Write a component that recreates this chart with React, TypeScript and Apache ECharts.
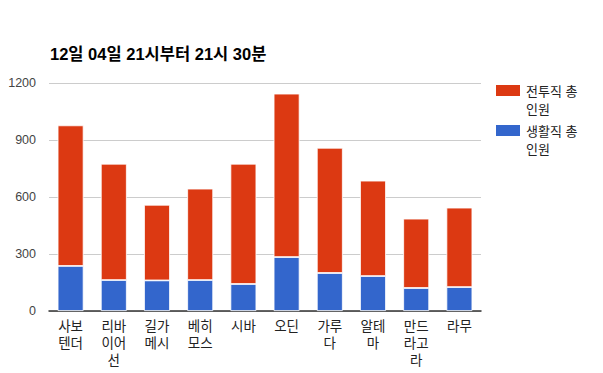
import React, { useEffect, useRef } from "react";
import * as echarts from "echarts";

const categories = ["사보텐더", "리바이어선", "길가메시", "베히모스", "시바", "오딘", "가루다", "알테마", "만드라고라", "라무"];
const combatNames = "전투직 총 인원";
const lifeNames = "생활직 총 인원";
const combatValues = [740, 612, 398, 481, 633, 860, 659, 502, 365, 418];
const lifeValues = [237, 163, 161, 163, 142, 284, 200, 184, 121, 126];
const yTicks = [0, 300, 600, 900, 1200];
const titleText = "12일 04일 21시부터 21시 30분";

const FONT = "'Liberation Sans', Arial, 'Noto Sans CJK KR', sans-serif";

export default function App() {
  const ref = useRef<HTMLDivElement>(null);
  useEffect(() => {
    if (!ref.current) return;
    const chart = echarts.init(ref.current, null, { renderer: "svg" });
    const legendIcon =
      "path://M0,0h0.01v0.01h-0.01Z M0,2H26V15H0Z M0,35.99h0.01v0.01h-0.01Z";
    chart.setOption({
      animation: false,
      textStyle: { fontFamily: FONT },
      title: {
        text: titleText,
        left: 45,
        top: 41,
        textStyle: { fontSize: 16.5, fontWeight: "bold", color: "#000", fontFamily: FONT },
      },
      legend: {
        orient: "vertical",
        left: 494,
        top: 81,
        itemWidth: 26,
        itemHeight: 36,
        itemGap: 2,
        padding: 0,
        selectedMode: false,
        icon: legendIcon,
        data: [combatNames, lifeNames],
        formatter: (name: string) => {
          const i = name.lastIndexOf(" ");
          return name.slice(0, i) + "\n" + name.slice(i + 1);
        },
        textStyle: { fontSize: 13, lineHeight: 18, color: "#222", fontFamily: FONT },
      },
      grid: { left: 49, right: 122, top: 83, bottom: 62, containLabel: false },
      xAxis: {
        type: "category",
        data: categories,
        axisLine: { lineStyle: { color: "#333", width: 1.5 } },
        axisTick: { show: false },
        axisLabel: {
          interval: 0,
          margin: 7,
          fontSize: 13.5,
          lineHeight: 17,
          color: "#222",
          fontFamily: FONT,
          formatter: (v: string) => {
            const parts: string[] = [];
            for (let i = 0; i < v.length; i += 2) parts.push(v.slice(i, i + 2));
            return parts.join("\n");
          },
        },
      },
      yAxis: {
        type: "value",
        min: yTicks[0],
        max: yTicks[yTicks.length - 1],
        interval: yTicks[1] - yTicks[0],
        axisLine: { show: false },
        axisTick: { show: false },
        splitLine: { lineStyle: { color: "#ccc", width: 1 } },
        axisLabel: {
          fontSize: 12.5,
          color: "#444",
          margin: 13,
          fontFamily: FONT,
          formatter: (v: number) => String(v),
        },
      },
      series: [
        {
          name: lifeNames,
          type: "bar",
          stack: "total",
          data: lifeValues,
          barWidth: "60%",
          itemStyle: { color: "#3366CC", borderColor: "#fff", borderWidth: 0.8 },
        },
        {
          name: combatNames,
          type: "bar",
          stack: "total",
          data: combatValues,
          barWidth: "60%",
          itemStyle: { color: "#DC3912", borderColor: "#fff", borderWidth: 0.8 },
        },
      ],
    });
    return () => chart.dispose();
  }, []);
  return (
    <div
      ref={ref}
      style={{ position: "absolute", left: 0, top: 0, width: 603, height: 373 }}
    />
  );
}
